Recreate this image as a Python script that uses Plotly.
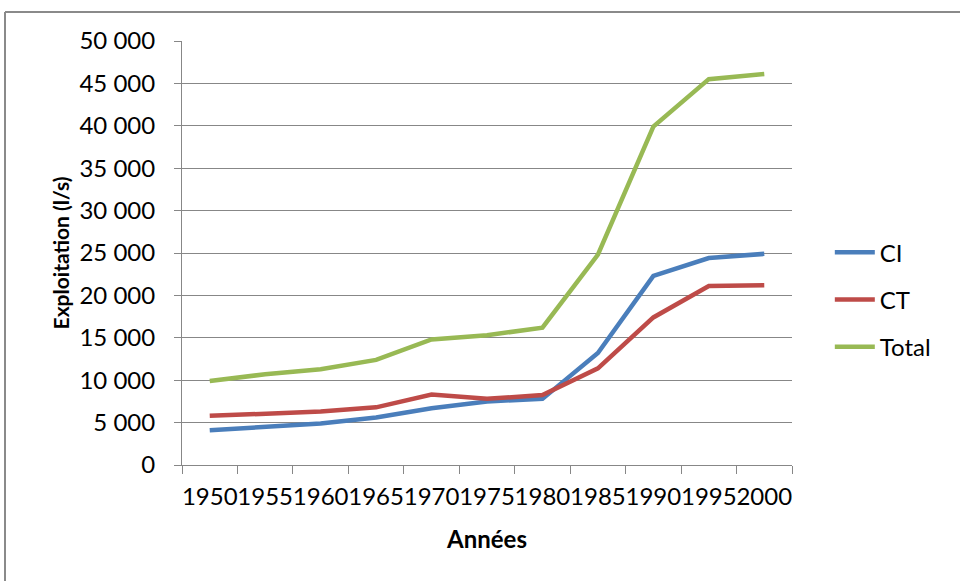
import plotly.graph_objects as go

years = ["1950", "1955", "1960", "1965", "1970", "1975", "1980", "1985", "1990", "1995", "2000"]
ci = [4100, 4500, 4900, 5600, 6700, 7500, 7800, 13200, 22300, 24400, 24900]
ct = [5800, 6100, 6300, 6800, 8300, 7800, 8250, 11400, 17400, 21100, 21200]
total = [9900, 10700, 11300, 12400, 14800, 15300, 16200, 24800, 39900, 45500, 46100]

series_names = ["CI", "CT", "Total"]
series_values = [ci, ct, total]
series_colors = ["#4A7EBB", "#BE4B48", "#98B954"]

FONT = "Lato"
GRID = "#878787"

fig = go.Figure()
for name, vals, col in zip(series_names, series_values, series_colors):
    fig.add_trace(go.Scatter(
        x=years, y=vals, name=name, mode="lines",
        line=dict(color=col, width=4.5),
        legendgroup=name,
    ))

L, R, T, B = 182, 792, 41, 465
W, H = 960, 581

fig.update_layout(
    width=W, height=H,
    margin=dict(l=L, r=W - R, t=T, b=H - B, pad=0),
    paper_bgcolor="white", plot_bgcolor="white",
    font=dict(family=FONT, size=24, color="#000000"),
    separators=", ",
    showlegend=True,
    legend=dict(
        x=1.062, y=0.39, xanchor="left", yanchor="middle",
        font=dict(family=FONT, size=24, color="#000000"),
        traceorder="grouped", tracegroupgap=13,
        bgcolor="rgba(0,0,0,0)", itemwidth=40,
    ),
    xaxis=dict(
        type="category", range=[-0.5, 10.5],
        showgrid=False, showline=True, linecolor=GRID, linewidth=1,
        ticks="outside", tickson="boundaries", ticklen=8, tickcolor=GRID,
        tickangle=0, tickfont=dict(family=FONT, size=24), ticklabelstandoff=10,
        title=dict(text="<b>Années</b>", font=dict(family=FONT, size=24), standoff=22),
        zeroline=False,
    ),
    yaxis=dict(
        range=[0, 50000], dtick=5000, tickformat=",d",
        showgrid=True, gridcolor=GRID, gridwidth=1,
        showline=True, linecolor=GRID, linewidth=1,
        ticks="outside", ticklen=7, tickcolor=GRID,
        tickfont=dict(family=FONT, size=24), ticklabelstandoff=14,
        title=dict(text="<b>Exploitation (l/s)</b>", font=dict(family=FONT, size=21), standoff=4),
        zeroline=False,
    ),
    shapes=[
        dict(type="line", xref="paper", yref="paper",
             x0=(5 - L) / (R - L), x1=(W + 20 - L) / (R - L),
             y0=(B - 12) / (B - T), y1=(B - 12) / (B - T),
             line=dict(color="#8A8A8A", width=2)),
        dict(type="line", xref="paper", yref="paper",
             x0=(5 - L) / (R - L), x1=(5 - L) / (R - L),
             y0=(B - 12) / (B - T), y1=(B - H - 20) / (B - T),
             line=dict(color="#8A8A8A", width=2)),
    ],
)

fig.write_html("out.html", config={"displayModeBar": False},
               post_script="document.body.style.margin='0';")
